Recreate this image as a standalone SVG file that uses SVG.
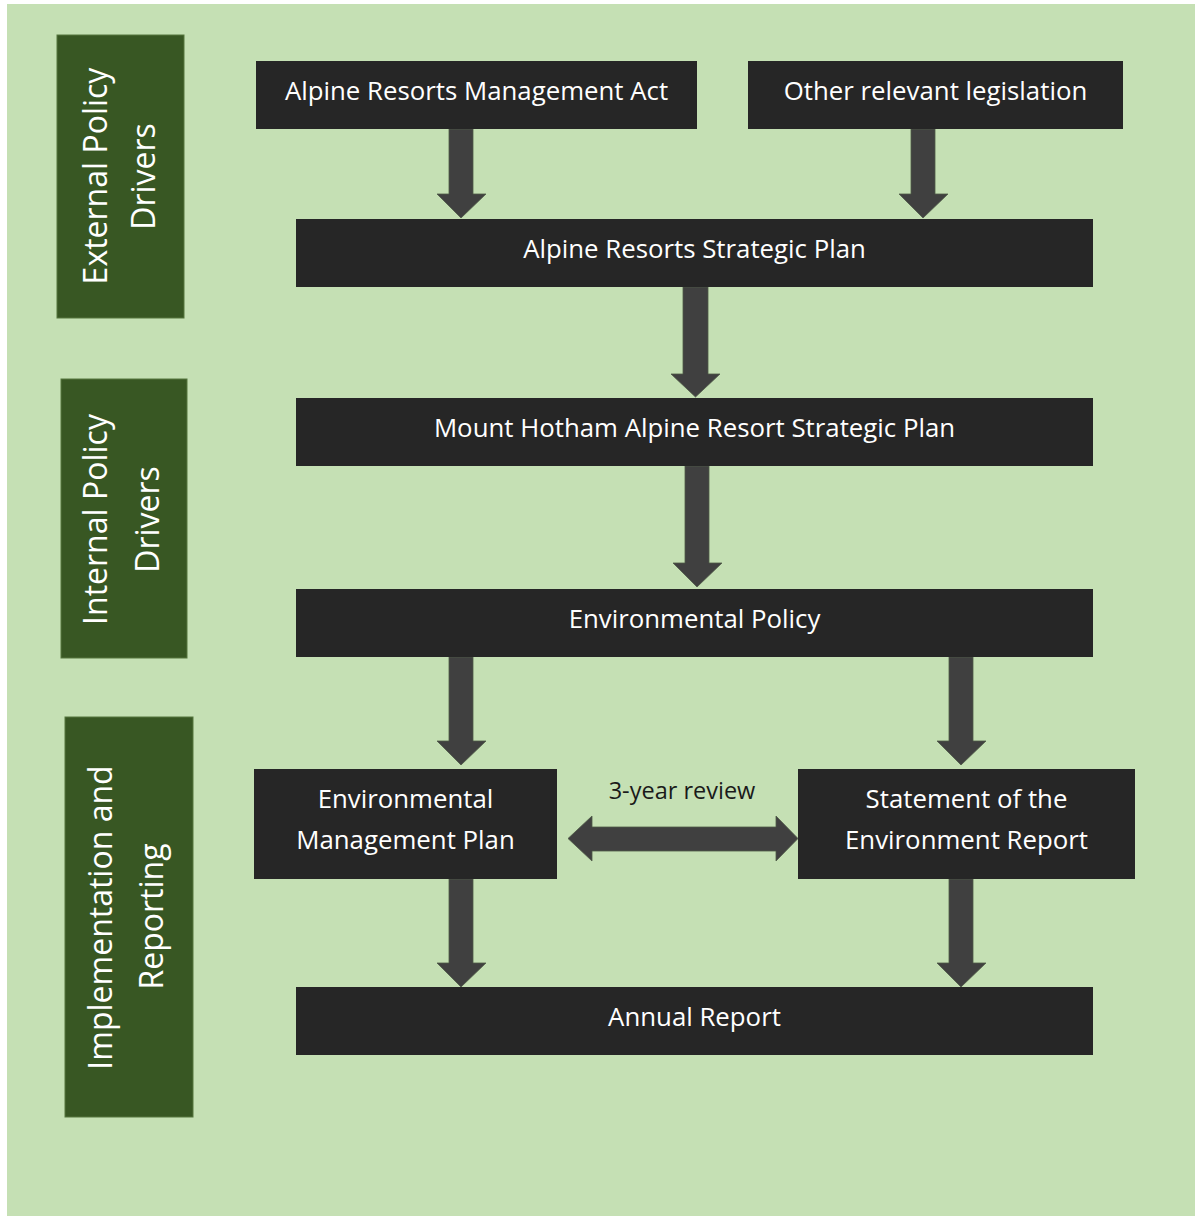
<svg xmlns="http://www.w3.org/2000/svg" width="1195" height="1216" viewBox="0 0 1195 1216">
<defs>
<style>
.bg{fill:#c5e0b4}
.lab{fill:#385723;stroke:#56763f;stroke-width:1}
.box{fill:#262626}
.arr{fill:#404040;stroke:#4f5a47;stroke-width:0.8}
.t{font-family:"Open Sans","Noto Sans","DejaVu Sans",sans-serif;font-size:25.8px;fill:#ffffff;text-anchor:middle}
.lt{font-family:"Open Sans","Noto Sans","DejaVu Sans",sans-serif;font-size:32px;fill:#ffffff;text-anchor:middle}
.rv{font-family:"Open Sans","Noto Sans","DejaVu Sans",sans-serif;font-size:23.5px;fill:#1a1a1a;text-anchor:middle}
</style>
</defs>
<rect class="bg" x="7" y="4" width="1188" height="1212"/>

<g id="label-external">
<rect class="lab" x="57" y="35" width="127" height="283"/>
<text class="lt" transform="translate(107,176) rotate(-90)">External Policy</text>
<text class="lt" transform="translate(155,176.5) rotate(-90)">Drivers</text>
</g>
<g id="label-internal">
<rect class="lab" x="61" y="379" width="126" height="279"/>
<text class="lt" transform="translate(107,519.5) rotate(-90)">Internal Policy</text>
<text class="lt" transform="translate(159,519.5) rotate(-90)">Drivers</text>
</g>
<g id="label-implementation">
<rect class="lab" x="65" y="717" width="128" height="400"/>
<text class="lt" transform="translate(112,917.5) rotate(-90)">Implementation and</text>
<text class="lt" transform="translate(163,916.5) rotate(-90)">Reporting</text>
</g>

<g id="connectors">
<polygon class="arr" points="449,129 473,129 473,194 486,194 461,218 437,194 449,194"/>
<polygon class="arr" points="911,129 935,129 935,194 948,194 923,218 899,194 911,194"/>
<polygon class="arr" points="683,287 708,287 708,374 720,374 695.5,397 671,374 683,374"/>
<polygon class="arr" points="685,466 709,466 709,563 722,563 697,587 673,563 685,563"/>
<polygon class="arr" points="449,657 473,657 473,741 486,741 461,765 437,741 449,741"/>
<polygon class="arr" points="949,657 973,657 973,741 986,741 961,765 937,741 949,741"/>
<polygon class="arr" points="449,879 473,879 473,963 486,963 461,987 437,963 449,963"/>
<polygon class="arr" points="949,879 973,879 973,963 986,963 961,987 937,963 949,963"/>
<polygon class="arr" points="568,838.5 592,816 592,827 776,827 776,816 798,838.5 776,861 776,851 592,851 592,861"/>
<text class="rv" x="682" y="799">3-year review</text>
</g>

<g id="node-arma">
<rect class="box" x="256" y="61" width="441" height="68"/>
<text class="t" x="476.5" y="100">Alpine Resorts Management Act</text>
</g>
<g id="node-other">
<rect class="box" x="748" y="61" width="375" height="68"/>
<text class="t" x="935.5" y="100">Other relevant legislation</text>
</g>
<g id="node-arsp">
<rect class="box" x="296" y="219" width="797" height="68"/>
<text class="t" x="694.5" y="258">Alpine Resorts Strategic Plan</text>
</g>
<g id="node-mhasp">
<rect class="box" x="296" y="398" width="797" height="68"/>
<text class="t" x="694.5" y="437">Mount Hotham Alpine Resort Strategic Plan</text>
</g>
<g id="node-policy">
<rect class="box" x="296" y="589" width="797" height="68"/>
<text class="t" x="694.5" y="628">Environmental Policy</text>
</g>
<g id="node-emp">
<rect class="box" x="254" y="769" width="303" height="110"/>
<text class="t" x="405.5" y="808">Environmental</text>
<text class="t" x="405.5" y="849">Management Plan</text>
</g>
<g id="node-soe">
<rect class="box" x="798" y="769" width="337" height="110"/>
<text class="t" x="966.5" y="808">Statement of the</text>
<text class="t" x="966.5" y="849">Environment Report</text>
</g>
<g id="node-annual">
<rect class="box" x="296" y="987" width="797" height="68"/>
<text class="t" x="694.5" y="1026">Annual Report</text>
</g>
</svg>
